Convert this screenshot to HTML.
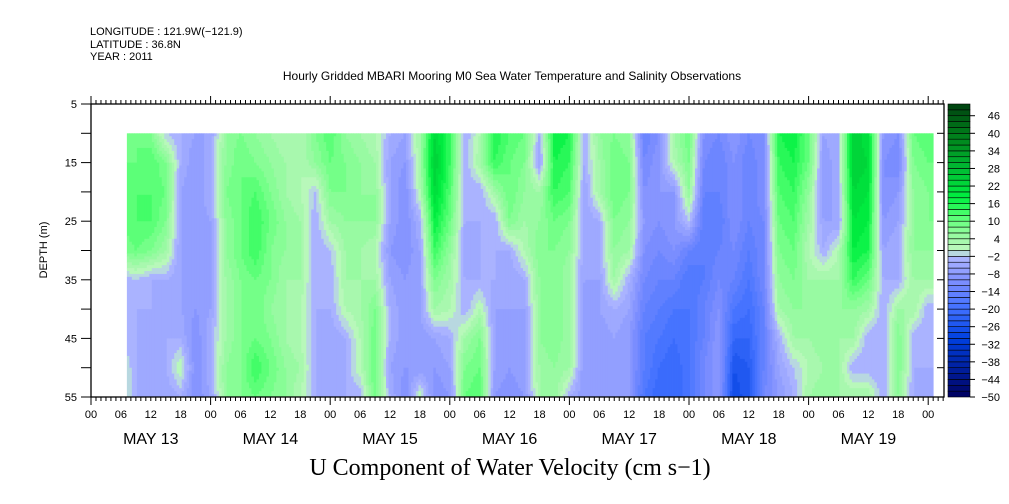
<!DOCTYPE html>
<html><head><meta charset="utf-8"><style>
body{margin:0;background:#fff;}
svg{display:block;font-family:"Liberation Sans",sans-serif;}
</style></head><body>
<svg id="chart" width="1009" height="504" viewBox="0 0 1009 504" xmlns="http://www.w3.org/2000/svg">
<g font-size="11" fill="#000">
<text x="90" y="35">LONGITUDE : 121.9W(−121.9)</text>
<text x="90" y="48">LATITUDE : 36.8N</text>
<text x="90" y="60">YEAR : 2011</text>
<text x="512" y="80" text-anchor="middle" font-size="12">Hourly Gridded MBARI Mooring M0 Sea Water Temperature and Salinity Observations</text>
</g>
<g id="cells"></g>
<g id="axes"></g>
<g id="cbar"></g>
<text x="47" y="250" transform="rotate(-90 47 250)" text-anchor="middle" font-size="11">DEPTH (m)</text>
<text x="510" y="475" text-anchor="middle" font-size="24" font-family="Liberation Serif,serif">U Component of Water Velocity (cm s−1)</text>
</svg>
<script>
const hours=[6,9,12,15,18,21,24,27,30,33,36,39,42,45,48,51,54,57,60,63,66,69,72,75,78,81,84,87,90,93,96,99,102,105,108,111,114,117,120,123,126,129,132,135,138,141,144,147,150,153,156,159,162,165,168,171];
const depths=[10,15,20,25,30,35,40,45,50,55];
const values=[
[8,10,10,10,8,-4,-4,-4,2,2],
[10,10,12,12,10,-2,-4,-4,-4,-4],
[8,12,12,12,8,-4,-4,-6,-6,-6],
[-2,8,10,8,4,-4,-6,-4,-4,-6],
[-4,-4,-6,-6,-6,-6,-6,-4,2,-4],
[-6,-8,-8,-8,-6,-8,-8,-10,-10,-10],
[-6,-4,-4,-6,-6,-6,-6,-4,-4,-6],
[6,6,8,6,6,4,4,4,6,6],
[8,10,10,10,10,8,8,8,8,8],
[6,8,12,14,14,10,10,10,14,10],
[4,6,8,10,8,8,6,8,10,8],
[2,4,4,6,6,4,4,4,6,6],
[2,2,2,4,4,4,2,2,4,2],
[8,6,-2,-4,-4,-4,-4,-4,-4,-4],
[12,10,8,4,-2,-4,-4,-6,-6,-4],
[6,8,8,6,4,4,2,-4,-4,-4],
[4,6,6,6,4,4,4,2,2,-4],
[2,4,6,6,2,4,8,10,10,10],
[-4,-6,-6,-6,-8,-6,-4,-4,-6,-4],
[-6,-8,-10,-10,-10,-8,-8,-8,-8,-10],
[4,4,2,-4,-6,-6,-6,-8,-8,2],
[22,24,22,18,14,8,4,-6,-8,-10],
[14,14,12,10,6,4,2,-4,-6,-8],
[-4,-4,-4,-4,-6,-4,-4,4,8,10],
[2,4,-4,-4,-4,-4,2,8,10,12],
[16,14,4,-4,-4,-4,-6,-6,-6,-8],
[12,10,10,8,-4,-6,-6,-8,-8,-10],
[10,8,6,4,2,-4,-6,-6,-6,-8],
[-4,-6,4,6,8,6,6,6,4,4],
[18,16,14,10,8,8,8,8,6,6],
[16,14,12,8,6,4,4,4,4,-4],
[-4,-4,-6,-6,-6,-6,-8,-8,-8,-8],
[6,4,4,-4,-4,-6,-6,-8,-6,-8],
[8,10,10,8,6,4,-4,-6,-6,-6],
[6,8,8,6,4,-4,-6,-8,-8,-8],
[-14,-12,-10,-8,-10,-12,-14,-16,-16,-18],
[-10,-8,-8,-10,-12,-14,-16,-18,-20,-22],
[4,2,-8,-8,-10,-14,-18,-20,-22,-22],
[10,8,6,-2,-14,-18,-18,-18,-18,-18],
[-10,-12,-14,-16,-16,-16,-14,-14,-12,-12],
[-12,-14,-14,-16,-14,-12,-10,-8,-8,-8],
[-8,-10,-10,-10,-12,-14,-18,-22,-26,-28],
[-12,-14,-14,-14,-16,-18,-20,-22,-24,-24],
[-10,-10,-10,-12,-12,-12,-14,-14,-14,-12],
[16,14,12,10,8,6,4,-4,-6,-8],
[18,16,14,12,10,8,6,4,-2,-4],
[10,10,6,4,2,4,6,4,2,4],
[-6,-8,-8,-6,-4,4,6,6,4,6],
[-4,-4,-4,-6,2,4,6,4,4,4],
[24,24,22,20,18,14,6,4,-4,4],
[20,22,20,18,16,10,4,-4,-4,4],
[-8,-10,-10,-8,-6,-4,-4,-4,-4,-4],
[-10,-12,-8,-6,-4,-4,4,8,8,6],
[10,8,6,6,6,4,4,-4,-4,-4],
[12,10,8,8,6,4,-4,-4,-4,-6],
[12,10,8,8,6,4,-4,-4,-4,-6]
];
const yTicks=[5,15,25,35,45,55];
const dayLabels=["MAY 13","MAY 14","MAY 15","MAY 16","MAY 17","MAY 18","MAY 19"];
const cbarLabels=[46,40,34,28,22,16,10,4,-2,-8,-14,-20,-26,-32,-38,-44,-50];
const dataStart=7.2, dataEnd=169;

const NS="http://www.w3.org/2000/svg";
const X0=91,X1=944,Y0=104,Y1=397,HPD=119.6/24;
const xS=h=>X0+h*HPD;
const yS=d=>Y0+(d-5)*(Y1-Y0)/50;
function mk(tag,attrs,parent){const e=document.createElementNS(NS,tag);for(const k in attrs)e.setAttribute(k,attrs[k]);parent.appendChild(e);return e;}
const stops=[[-50,[0,0,96]],[-40,[0,32,160]],[-30,[0,64,224]],[-20,[64,112,255]],[-10,[128,144,255]],[-2,[176,184,255]],[0,[192,248,192]],[4,[160,248,168]],[8,[128,255,144]],[12,[80,255,112]],[18,[0,240,64]],[24,[0,208,56]],[30,[0,176,48]],[36,[0,144,32]],[42,[0,112,24]],[50,[0,64,16]]];
function bandColor(v){
  let b=Math.floor(v/2)*2+1; b=Math.max(-49,Math.min(49,b));
  for(let i=0;i<stops.length-1;i++){const[a,ca]=stops[i],[c,cc]=stops[i+1];
    if(b>=a&&b<=c){const t=(b-a)/(c-a);return `rgb(${ca.map((q,j)=>Math.round(q+(cc[j]-q)*t)).join(",")})`;}}
  return "rgb(0,64,16)";
}
function val(h,d){
  let i=0;while(i<hours.length-2&&hours[i+1]<h)i++;
  const tx=Math.max(0,Math.min(1,(h-hours[i])/(hours[i+1]-hours[i])));
  let j=0;while(j<depths.length-2&&depths[j+1]<d)j++;
  const ty=Math.max(0,Math.min(1,(d-depths[j])/(depths[j+1]-depths[j])));
  const a=values[i][j],b=values[i+1][j],c=values[i][j+1],e=values[i+1][j+1];
  return (a*(1-tx)+b*tx)*(1-ty)+(c*(1-tx)+e*tx)*ty;
}
const cells=document.getElementById('cells');
const dh=0.5, dd=0.5;
for(let h=dataStart;h<dataEnd;h+=dh){
  const h2=Math.min(h+dh,dataEnd);
  let runStart=10,runCol=null;
  for(let d=10;d<=55+1e-9;d+=dd){
    const col=d<55?bandColor(val(h+dh/2,d+dd/2)):null;
    if(col!==runCol){
      if(runCol){const r=mk('rect',{x:xS(h).toFixed(2),y:yS(runStart).toFixed(2),width:(xS(h2)-xS(h)+0.4).toFixed(2),height:(yS(d)-yS(runStart)+0.4).toFixed(2),fill:runCol},cells);
        
        }
      runStart=d;runCol=col;
    }
  }
}
const ax=document.getElementById('axes');
mk('rect',{x:X0,y:Y0,width:X1-X0,height:Y1-Y0,fill:'none',stroke:'#000','stroke-width':1.3},ax);
for(let h=0;h<=172;h++){
  const x=xS(h);if(x>X1)break;
  const L=h%24===0?8:4;
  mk('line',{x1:x,y1:Y0,x2:x,y2:Y0-L,stroke:'#000','stroke-width':1},ax);
  mk('line',{x1:x,y1:Y1,x2:x,y2:Y1+L,stroke:'#000','stroke-width':1},ax);
  if(h%6===0){const t=mk('text',{x:x,y:418,'text-anchor':'middle','font-size':11},ax);t.textContent=String(h%24).padStart(2,'0');
    
    }
}
dayLabels.forEach((s,i)=>{const t=mk('text',{x:xS(i*24+12),y:444,'text-anchor':'middle','font-size':16},ax);t.textContent=s;
  
  });
for(let d=5;d<=55;d+=5){const y=yS(d);
  mk('line',{x1:X0,y1:y,x2:X0-10,y2:y,stroke:'#000'},ax);
  mk('line',{x1:X1,y1:y,x2:X1-7,y2:y,stroke:'#000'},ax);}
yTicks.forEach(d=>{const t=mk('text',{x:77,y:yS(d)+4,'text-anchor':'end','font-size':11},ax);t.textContent=d;
  
  });
const cb=document.getElementById('cbar');
const CX=948,CW=22,vS=v=>Y1-(v+50)*(Y1-Y0)/100;
for(let v=-50;v<50;v+=2){const r=mk('rect',{x:CX,y:vS(v+2),width:CW,height:vS(v)-vS(v+2),fill:bandColor(v+1),stroke:'#000','stroke-width':0.6},cb);
  
  }
cbarLabels.forEach(v=>{const y=vS(v);mk('line',{x1:CX+CW,y1:y,x2:CX+CW+5,y2:y,stroke:'#000'},cb);
  const t=mk('text',{x:1000,y:y+4,'text-anchor':'end','font-size':11},cb);t.textContent=v<0?'−'+(-v):v;
  
  });
</script>
</body></html>
